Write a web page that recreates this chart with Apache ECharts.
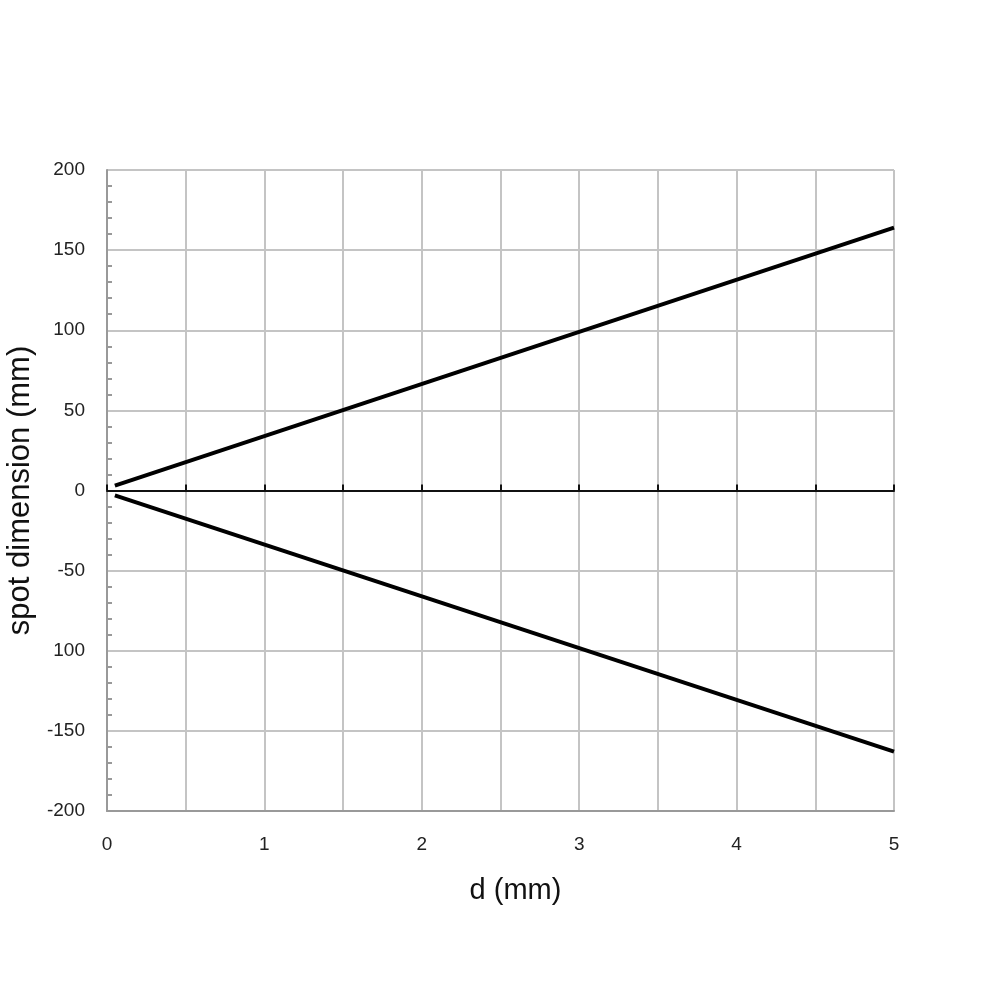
<!DOCTYPE html>
<html><head><meta charset="utf-8">
<script src="https://cdn.jsdelivr.net/npm/echarts@6/dist/echarts.min.js"></script>
<style>html,body{margin:0;padding:0;background:#fff}#c{width:1000px;height:1000px}</style>
</head><body><div id="c"></div>
<script>
const xUpper = [0.05, 5];
const yUpper = [3, 164];
const xLower = [0.05, 5];
const yLower = [-3, -163];
const yTickLabels = {"200":"200","150":"150","100":"100","50":"50","0":"0","-50":"-50","-100":"100","-150":"-150","-200":"-200"};
const xTickLabels = {"0":"0","1":"1","2":"2","3":"3","4":"4","5":"5"};

const chart = echarts.init(document.getElementById('c'));
const font = 'Liberation Sans, Arial, sans-serif';
chart.setOption({
  backgroundColor: '#fff',
  animation: false,
  grid: {left: 107, right: 106, top: 170, bottom: 189, containLabel: false, outerBoundsMode: 'none'},
  xAxis: [{
    type: 'value', min: 0, max: 5, interval: 0.5,
    axisLine: {onZero: false, lineStyle: {color: '#999', width: 2}},
    axisTick: {show: false},
    splitLine: {show: true, lineStyle: {color: '#c4c4c4', width: 2}},
    axisLabel: {margin: 24, color: '#222', fontSize: 19, fontFamily: font,
      formatter: v => xTickLabels[String(v)] ?? ''},
    name: 'd (mm)', nameLocation: 'middle', nameGap: 65,
    nameTextStyle: {fontSize: 29, color: '#111', fontFamily: font, padding: [0, 0, 0, 30]}
  }, {
    type: 'value', min: 0, max: 5, interval: 0.5, position: 'bottom',
    axisLine: {onZero: true, lineStyle: {color: '#111', width: 2}},
    axisTick: {show: true, inside: true, length: 6, lineStyle: {color: '#111', width: 2}},
    axisLabel: {show: false}, splitLine: {show: false}
  }],
  yAxis: {
    type: 'value', min: -200, max: 200, interval: 50,
    axisLine: {show: true, lineStyle: {color: '#999', width: 2}},
    axisTick: {show: false, inside: true},
    minorTick: {show: true, splitNumber: 5, length: 5, lineStyle: {color: '#999', width: 2}},
    splitLine: {show: true, lineStyle: {color: '#c4c4c4', width: 2}},
    axisLabel: {margin: 22, color: '#222', fontSize: 19, fontFamily: font,
      formatter: v => yTickLabels[String(v)] ?? ''},
    name: 'spot dimension (mm)', nameLocation: 'middle', nameGap: 60,
    nameTextStyle: {fontSize: 31, color: '#111', fontFamily: font}
  },
  series: [{
    type: 'line', data: xUpper.map((x, i) => [x, yUpper[i]]), showSymbol: false,
    lineStyle: {color: '#000', width: 4}, z: 5
  }, {
    type: 'line', data: xLower.map((x, i) => [x, yLower[i]]), showSymbol: false,
    lineStyle: {color: '#000', width: 4}, z: 5
  }]
});
</script></body></html>
